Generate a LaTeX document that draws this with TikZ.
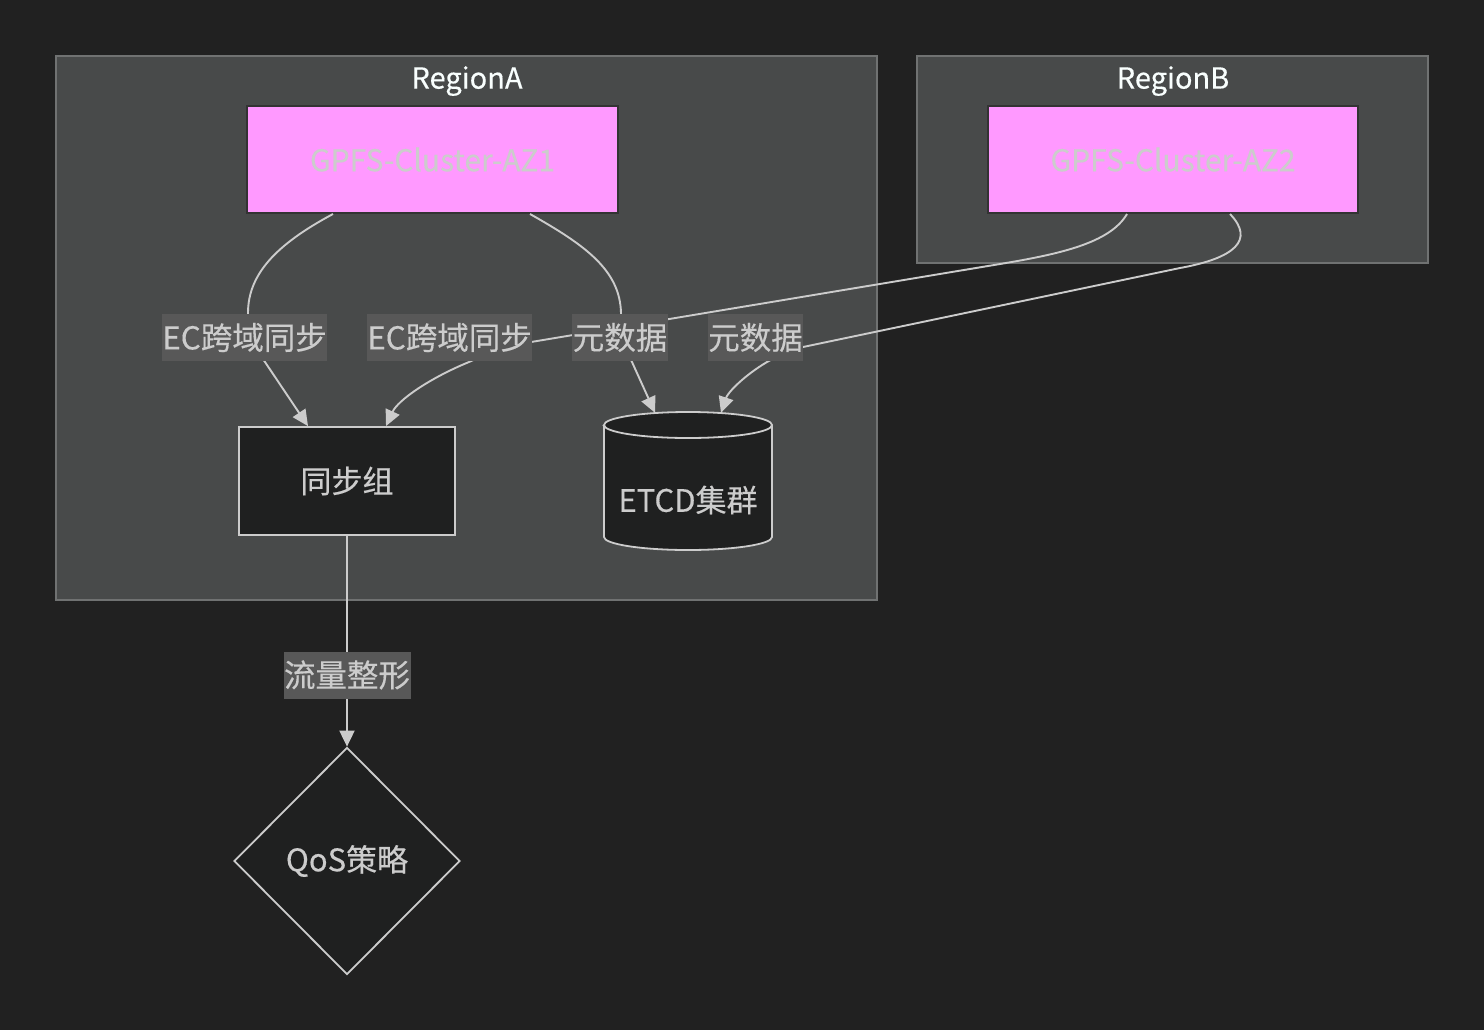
\documentclass[tikz,border=0pt]{standalone}
\usepackage{fontspec}
\setmainfont{Noto Sans CJK SC}[FakeBold=0.35]
\usetikzlibrary{shapes.geometric,arrows.meta}
\definecolor{bg}{HTML}{212121}
\definecolor{clfill}{HTML}{484A4A}
\definecolor{clborder}{HTML}{707272}
\definecolor{nodefill}{HTML}{1F2020}
\definecolor{nodeline}{HTML}{CCCCCC}
\definecolor{pinkfill}{HTML}{FF99FF}
\definecolor{pinkline}{HTML}{333333}
\definecolor{lblfill}{HTML}{585858}
\definecolor{txtc}{HTML}{CCCCCC}
\definecolor{titlec}{HTML}{F9FFFE}
\begin{document}
\begin{tikzpicture}[x=1bp,y=-1bp,
  cluster/.style={draw=clborder, fill=clfill, line width=1.5bp, inner sep=0pt},
  title/.style={text=titlec, inner sep=0pt, font=\fontsize{29bp}{35bp}\selectfont},
  pinkbox/.style={draw=pinkline, fill=pinkfill, line width=2bp, inner sep=0pt, text=txtc, font=\fontsize{30bp}{36bp}\selectfont},
  darkbox/.style={draw=nodeline, fill=nodefill, line width=1.8bp, inner sep=0pt, text=txtc, font=\fontsize{31bp}{37bp}\selectfont},
  plaintext/.style={inner sep=0pt, text=txtc, font=\fontsize{31bp}{37bp}\selectfont},
  elabel/.style={fill=lblfill, inner xsep=0.5bp, inner ysep=0pt, minimum height=47bp, text=txtc, font=\fontsize{31.5bp}{37bp}\selectfont},
  edge/.style={draw=nodeline, line width=1.9bp},
  arrowedge/.style={edge, -{Triangle[length=16bp,width=15bp]}, color=nodeline}
]
\fill[bg] (0,0) rectangle (1484,1030);
\useasboundingbox (0,0) rectangle (1484,1030);

% clusters
\node[cluster, minimum width=821bp, minimum height=544bp] (rA) at (466.5,328) {};
\node[title] (tA) at (467,81) {RegionA};
\node[cluster, minimum width=511bp, minimum height=207bp] (rB) at (1172.5,159.5) {};
\node[title] (tB) at (1173,81) {RegionB};

% nodes
\node[pinkbox, minimum width=371bp, minimum height=107bp] (az1) at (432.5,159.5) {GPFS-Cluster-AZ1};
\node[pinkbox, minimum width=370bp, minimum height=107bp] (az2) at (1173,159.5) {GPFS-Cluster-AZ2};
\node[darkbox, minimum width=216bp, minimum height=108bp] (sync) at (347,481) {同步组};
\node[inner sep=0pt, minimum width=168bp, minimum height=138bp] (etcd) at (688,481) {};
\filldraw[fill=nodefill, draw=nodeline, line width=1.8bp]
  (604,425) -- (604,537) arc[start angle=180,end angle=360,x radius=84bp,y radius=13bp]
  -- (772,425) arc[start angle=0,end angle=180,x radius=84bp,y radius=13bp] -- cycle;
\draw[draw=nodeline, line width=1.8bp] (604,425) arc[start angle=180,end angle=360,x radius=84bp,y radius=13bp];
\node[plaintext] (etcdtext) at (688,500) {ETCD集群};
\node[darkbox, diamond, minimum width=226bp, minimum height=227bp] (qos) at (347,861) {QoS策略};

% edges
\draw[arrowedge] ([xshift=-99.5bp]az1.south) .. controls (275,245) and (248,275) .. (248,313)
  .. controls (248,335) and (255,348) .. (265,362) -- ([xshift=-39bp]sync.north);
\draw[arrowedge] ([xshift=-46bp]az2.south) .. controls (1110,243) and (1060,254) .. (1000,264)
  -- (531,342) .. controls (500,348) .. (469,362)
  .. controls (430,378) and (398,400) .. ([xshift=39bp]sync.north);
\draw[arrowedge] ([xshift=97.5bp]az1.south) .. controls (585,245) and (620,270) .. (621,313)
  .. controls (622,340) and (626,350) .. (632,362) -- ([xshift=-33bp,yshift=-1bp]etcd.north);
\draw[arrowedge] ([xshift=57bp]az2.south) .. controls (1255,240) and (1235,258) .. (1180,268)
  -- (803,347) .. controls (785,352) .. (767,362)
  .. controls (745,375) and (728,392) .. ([xshift=33bp,yshift=-1bp]etcd.north);
\draw[arrowedge] (sync.south) -- (qos.north);

% edge labels
\node[elabel] (l1) at (244.5,337.5) {EC跨域同步};
\node[elabel] (l2) at (449.5,337.5) {EC跨域同步};
\node[elabel] (l3) at (620,337.5) {元数据};
\node[elabel] (l4) at (755.5,337.5) {元数据};
\node[elabel] (l5) at (347,675) {流量整形};
\end{tikzpicture}
\end{document}
